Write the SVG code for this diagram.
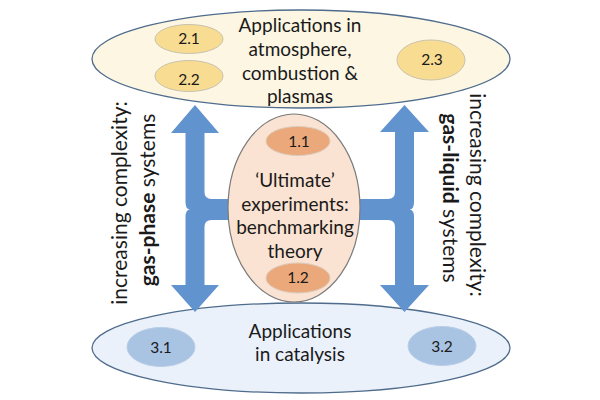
<svg xmlns="http://www.w3.org/2000/svg" width="600" height="400" viewBox="0 0 600 400">
<style>
text{font-family:Lato,"Noto Sans","Liberation Sans",sans-serif;fill:#1a1a1a}
.t{font-size:19px;text-anchor:middle}
.n{font-size:15.5px;text-anchor:middle}
.v{font-size:21px;text-anchor:middle}
.b{font-weight:bold}
.big{stroke:#4f6c8c;stroke-width:1.3}
.arrow{fill:#6193cf}
</style>
<rect width="600" height="400" fill="#ffffff"/>
<g id="node-2">
<ellipse class="big" cx="301" cy="59" rx="209" ry="49" fill="#fdf6e3"/>
<ellipse cx="189" cy="39" rx="34" ry="14.5" fill="#f8dc92" stroke="#c9c3ad" stroke-width="1"/>
<ellipse cx="189" cy="76" rx="34" ry="15.5" fill="#f8dc92" stroke="#c9c3ad" stroke-width="1"/>
<ellipse cx="431" cy="60" rx="34" ry="20" fill="#f8dc92" stroke="#c9c3ad" stroke-width="1"/>
<text class="n" x="189" y="43.5">2.1</text>
<text class="n" x="189" y="85">2.2</text>
<text class="n" x="432" y="65">2.3</text>
<text class="t" x="300" y="32">Applications in</text>
<text class="t" x="300" y="56">atmosphere,</text>
<text class="t" x="300" y="80">combustion &amp;</text>
<text class="t" x="300" y="103">plasmas</text>
</g>
<g id="node-3">
<ellipse class="big" cx="301" cy="348" rx="209" ry="45" fill="#eaf1fa"/>
<ellipse cx="161" cy="347" rx="34" ry="19.5" fill="#a9c3e3" stroke="#b9cde6" stroke-width="1"/>
<ellipse cx="442" cy="346" rx="34" ry="19.5" fill="#a9c3e3" stroke="#b9cde6" stroke-width="1"/>
<text class="n" x="161" y="353">3.1</text>
<text class="n" x="442" y="352">3.2</text>
<text class="t" x="300" y="337.5">Applications</text>
<text class="t" x="300" y="361">in catalysis</text>
</g>
<g id="connectors">
<path class="arrow" d="M195,105 L219,133 L204.5,133 L204.5,192 Q204.5,199 211.5,199 L234,199 L234,220 L211.5,220 Q204.5,220 204.5,227 L204.5,285 L219,285 L195,312 L171,285 L185.5,285 L185.5,217 Q185.5,209.5 190,209.5 Q185.5,209.5 185.5,202 L185.5,133 L171,133 Z"/>
<path class="arrow" d="M404.5,105 L429,132 L414,132 L414,202 Q414,209.5 409.5,209.5 Q414,209.5 414,217 L414,285 L429,285 L404.5,312 L380,285 L395,285 L395,227 Q395,220 388,220 L356,220 L356,199 L388,199 Q395,199 395,192 L395,132 L380,132 Z"/>
</g>
<g id="node-1">
<ellipse cx="294" cy="208" rx="66" ry="94" fill="#fae3d2" stroke="#7a7a7a" stroke-width="1.2"/>
<ellipse cx="298" cy="141" rx="32" ry="14.5" fill="#eba97b" stroke="#dccbbd" stroke-width="1"/>
<ellipse cx="298" cy="278" rx="32" ry="15" fill="#eba97b" stroke="#dccbbd" stroke-width="1"/>
<text class="n" x="299" y="147">1.1</text>
<text class="n" x="298" y="283">1.2</text>
<text class="t" x="295" y="187">‘Ultimate’</text>
<text class="t" x="295" y="210.5">experiments:</text>
<text class="t" x="295" y="234">benchmarking</text>
<text class="t" x="295" y="257.5">theory</text>
</g>
<g id="label-left">
<text class="v" transform="translate(127,203) rotate(-90)">increasing complexity:</text>
<text class="v" transform="translate(155,200) rotate(-90)"><tspan class="b">gas-phase</tspan> systems</text>
</g>
<g id="label-right">
<text class="v" transform="translate(470,195) rotate(90)">increasing complexity:</text>
<text class="v" transform="translate(443,198) rotate(90)"><tspan class="b">gas-liquid</tspan> systems</text>
</g>
</svg>
